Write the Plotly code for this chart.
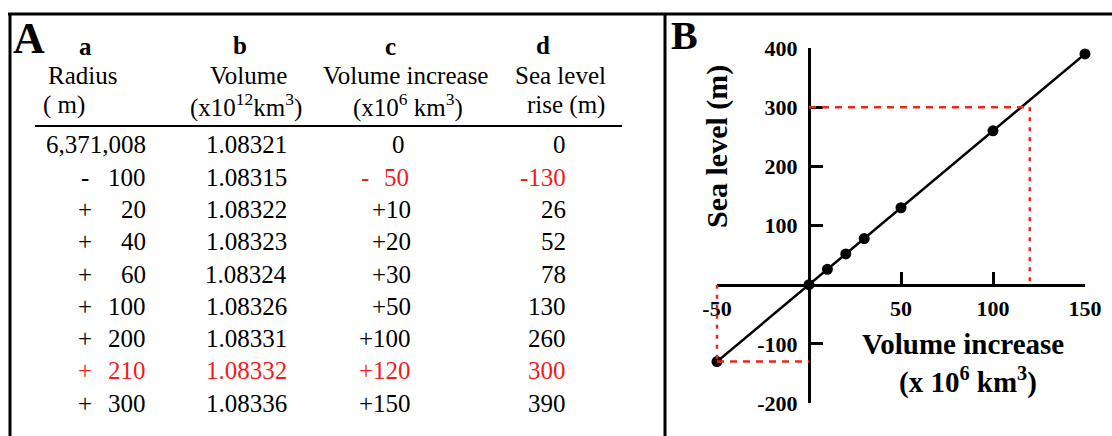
import plotly.graph_objects as go

# ---------------- data ----------------
radius_base = 6371008
radius_change = [0, -100, 20, 40, 60, 100, 200, 210, 300]
volume = ["1.08321", "1.08315", "1.08322", "1.08323", "1.08324", "1.08326", "1.08331", "1.08332", "1.08336"]
volume_increase = [0, -50, 10, 20, 30, 50, 100, 120, 150]
sea_level_rise = [0, -130, 26, 52, 78, 130, 260, 300, 390]
highlight_cd = [1, 7]      # rows whose columns c, d are red
highlight_ab = [7]         # rows whose columns a, b are red
interp_row = 7             # row shown only as guide lines in panel B
neg_row = 1                # row shown with guide lines to the negative corner

x_ticks = [-50, 50, 100, 150]
y_ticks = [-200, -100, 100, 200, 300, 400]
x_range = [-50, 150]
y_range = [-200, 400]

W, H = 1112, 436
FONT = "Liberation Serif"
RED = "#f01c1c"
BLACK = "#000000"


def px(x):
    return x / W


def py(y):
    return 1 - y / H


annotations = []


def ann(text, x, y, size=25, color=BLACK, xanchor="center", bold=False):
    if bold:
        text = "<b>" + text + "</b>"
    annotations.append(dict(
        text=text, x=px(x), y=py(y), xref="paper", yref="paper",
        xanchor=xanchor, yanchor="middle", showarrow=False,
        font=dict(family=FONT, size=size, color=color)))


# ---------------- panel A (table) ----------------
ann("A", 29, 38, size=44, bold=True)
ann("a", 85, 46, size=25, bold=True)
ann("b", 240, 45, size=25, bold=True)
ann("c", 390, 46, size=25, bold=True)
ann("d", 543, 45, size=25, bold=True)

ann("Radius", 82, 75)
ann("( m)", 64, 105)
ann("Volume", 248, 75)
ann("(x10<sup>12</sup>km<sup>3</sup>)", 246, 105)
ann("Volume increase", 405, 75)
ann("(x10<sup>6</sup> km<sup>3</sup>)", 408, 105)
ann("Sea level", 560, 75)
ann("rise (m)", 566, 105)

row_y0, row_dy = 145, 32.25
for i in range(len(radius_change)):
    y = row_y0 + i * row_dy
    c_ab = RED if i in highlight_ab else BLACK
    c_cd = RED if i in highlight_cd else BLACK
    r = radius_change[i]
    if r == 0:
        ann(f"{radius_base:,}", 148, y, color=c_ab, xanchor="right")
    else:
        ann("+" if r > 0 else "-", 85, y, color=c_ab)
        ann(str(abs(r)), 148, y, color=c_ab, xanchor="right")
    ann(volume[i], 246, y, color=c_ab)
    v = volume_increase[i]
    if v == 0:
        ann("0", 398, y, color=c_cd)
    elif v < 0:
        ann("-", 365, y, color=c_cd)
        ann(str(abs(v)), 411, y, color=c_cd, xanchor="right")
    else:
        ann("+" + str(v), 413, y, color=c_cd, xanchor="right")
    s = sea_level_rise[i]
    ann(str(s), 568, y, color=c_cd, xanchor="right")

# ---------------- panel B ----------------
ann("B", 684, 36, size=40, bold=True)
annotations.append(dict(
    text="<b>Sea level (m)</b>", x=px(717), y=py(147), xref="paper", yref="paper",
    xanchor="center", yanchor="middle", showarrow=False, textangle=-90,
    font=dict(family=FONT, size=30, color=BLACK)))
ann("Volume increase", 963, 344, size=29, bold=True)
ann("(x 10<sup>6</sup> km<sup>3</sup>)", 968, 380, size=29, bold=True)

# plot area (pixels -> paper)
X0, X1, YB, YT = 717, 1085, 403, 48
x_dom = [px(X0), px(X1)]
y_dom = [py(YB), py(YT)]
x_axis_pos = y_dom[0] + (0 - y_range[0]) / (y_range[1] - y_range[0]) * (y_dom[1] - y_dom[0])
y_axis_pos = x_dom[0] + (0 - x_range[0]) / (x_range[1] - x_range[0]) * (x_dom[1] - x_dom[0])

# an invisible, slightly larger twin subplot with the same scale, so guide lines
# lying on the plot edge are not clipped
PAD = 12
xs = (X1 - X0) / (x_range[1] - x_range[0])
ys = (YB - YT) / (y_range[1] - y_range[0])
x2_dom = [px(X0 - PAD), px(X1 + PAD)]
y2_dom = [py(YB + PAD), py(YT - PAD)]
x2_range = [x_range[0] - PAD / xs, x_range[1] + PAD / xs]
y2_range = [y_range[0] - PAD / ys, y_range[1] + PAD / ys]

pts = sorted((volume_increase[i], sea_level_rise[i])
             for i in range(len(volume_increase)) if i != interp_row)
px_vals = [p[0] for p in pts]
py_vals = [p[1] for p in pts]

fig = go.Figure()

# red guide lines
xi, yi = volume_increase[interp_row], sea_level_rise[interp_row]
xn, yn = volume_increase[neg_row], sea_level_rise[neg_row]
guide = dict(color="#e8281e", width=2.5)
g = dict(mode="lines", hoverinfo="skip", xaxis="x2", yaxis="y2")
fig.add_trace(go.Scatter(x=[0, xi], y=[yi, yi], line=dict(**guide, dash="7px,6px"), **g))
fig.add_trace(go.Scatter(x=[xi, xi], y=[yi, 0], line=dict(**guide, dash="4px,6px"), **g))
fig.add_trace(go.Scatter(x=[xn, xn], y=[0, yn], line=dict(**guide, dash="4px,6px"), **g))
fig.add_trace(go.Scatter(x=[xn, 0], y=[yn, yn], line=dict(**guide, dash="7px,6px"), **g))

fig.add_trace(go.Scatter(x=px_vals, y=py_vals, mode="lines+markers",
                         line=dict(color=BLACK, width=2.5),
                         marker=dict(color=BLACK, size=11),
                         cliponaxis=False))

axis_font = dict(family=FONT, size=22, color=BLACK, weight="bold")
fig.update_layout(
    template="none",
    width=W, height=H,
    margin=dict(l=0, r=0, t=0, b=0, pad=0, autoexpand=False),
    paper_bgcolor="rgba(0,0,0,0)", plot_bgcolor="rgba(0,0,0,0)",
    showlegend=False,
    xaxis=dict(domain=x_dom, range=x_range, anchor="free", position=x_axis_pos,
               automargin=False,
               showgrid=False, zeroline=False, showline=True, linecolor=BLACK, linewidth=3,
               ticks="inside", ticklen=12, tickwidth=3, tickcolor=BLACK,
               tickvals=x_ticks, ticktext=[str(t) for t in x_ticks],
               tickfont=axis_font, ticklabelstandoff=3),
    yaxis=dict(domain=y_dom, range=y_range, anchor="free", position=y_axis_pos,
               automargin=False,
               showgrid=False, zeroline=False, showline=True, linecolor=BLACK, linewidth=3,
               ticks="inside", ticklen=12, tickwidth=3, tickcolor=BLACK,
               tickvals=y_ticks, ticktext=[str(t) for t in y_ticks],
               tickfont=axis_font, ticklabelstandoff=6),
    xaxis2=dict(domain=x2_dom, range=x2_range, anchor="y2", visible=False,
                automargin=False, showgrid=False, zeroline=False),
    yaxis2=dict(domain=y2_dom, range=y2_range, anchor="x2", visible=False,
                automargin=False, showgrid=False, zeroline=False),
    annotations=annotations,
    shapes=[
        dict(type="line", xref="paper", yref="paper", x0=px(8), x1=1, y0=py(14), y1=py(14),
             line=dict(color=BLACK, width=3)),
        dict(type="line", xref="paper", yref="paper", x0=px(10), x1=px(10), y0=py(13), y1=0,
             line=dict(color=BLACK, width=3)),
        dict(type="line", xref="paper", yref="paper", x0=px(665), x1=px(665), y0=py(13), y1=0,
             line=dict(color=BLACK, width=3)),
        dict(type="line", xref="paper", yref="paper", x0=px(35), x1=px(622), y0=py(126), y1=py(126),
             line=dict(color=BLACK, width=2)),
    ],
)

fig.write_html(
    "out.html",
    config={"displayModeBar": False},
    post_script="document.body.style.margin='0';document.body.style.padding='0';"
                "document.body.style.overflow='hidden';document.body.style.background='white';",
)
